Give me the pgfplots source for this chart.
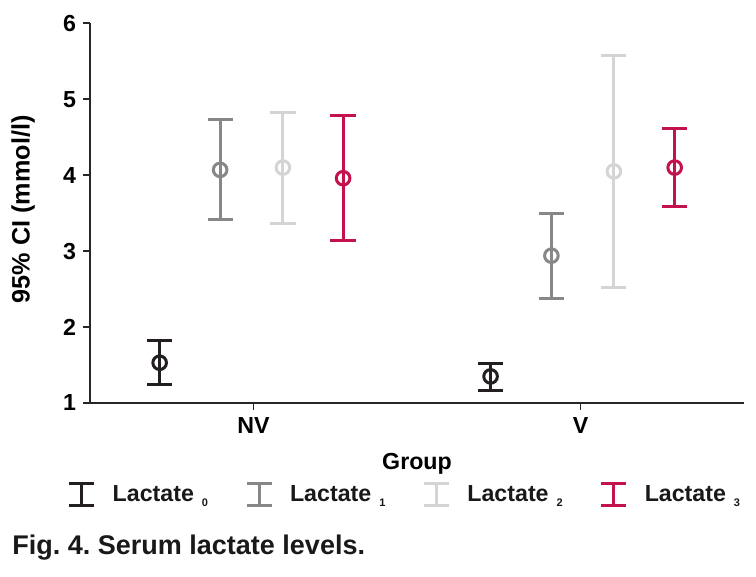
\documentclass[border=0pt]{standalone}
\usepackage{fontspec}
\setmainfont{Liberation Sans}
\usepackage{pgfplots}
\pgfplotsset{compat=1.18}
\definecolor{cA}{RGB}{35,31,32}
\definecolor{cB}{RGB}{135,135,135}
\definecolor{cC}{RGB}{212,212,212}
\definecolor{cD}{RGB}{196,18,76}
\newcommand{\sub}[1]{\hspace{4pt}\raisebox{-2.5pt}{\fontsize{5.5}{6}\selectfont #1}}
\frenchspacing
\begin{document}
\begin{tikzpicture}
\useasboundingbox (-45pt,-87pt) rectangle (333pt,201.5pt);
\begin{axis}[
  at={(0,0)}, anchor=south west, scale only axis,
  width=327pt, height=189.85pt,
  xmin=-0.5, xmax=1.5, ymin=1, ymax=6,
  axis x line*=bottom, axis y line*=left,
  axis line style={line width=0.85pt, color=black!85, -},
  xtick={0,1}, xticklabels={NV,V}, ytick={1,2,3,4,5,6},
  tick align=outside, major tick length=3.5pt,
  tick style={line width=0.85pt, color=black!85},
  /pgf/number format/assume math mode=true,
  font=\bfseries\fontsize{11.6}{13}\selectfont,
  tick label style={font=\bfseries\fontsize{11.6}{13}\selectfont},
  xlabel={Group}, ylabel={95\% CI (mmol/l)},
  xlabel style={at={(axis description cs:0.5,-0.1605)}, anchor=center},
  ylabel style={at={(axis description cs:-0.1024,0.51)}, anchor=center,
    font=\bfseries\fontsize{12.6}{14}\selectfont},
  legend columns=4,
  legend style={draw=none, fill=none, at={(0.48,-0.242)}, anchor=center,
    nodes={inner sep=0pt, text=black!90},
    /tikz/every odd column/.append style={column sep=8.5pt},
    /tikz/every even column/.append style={column sep=18.5pt}},
  legend image code/.code={
    \draw[#1, mark=none] (6.25pt,-5.5pt) -- (6.25pt,5.5pt);
    \draw[#1, mark=none] (0pt,-5.5pt) -- (12.5pt,-5.5pt);
    \draw[#1, mark=none] (0pt,5.5pt) -- (12.5pt,5.5pt);
  },
  every axis plot/.append style={only marks, mark=o, mark size=3.4pt, line width=1.5pt,
    error bars/y dir=both, error bars/y explicit,
    error bars/error mark=|,
    error bars/error bar style={line width=1.5pt},
    error bars/error mark options={mark size=6.3pt, line width=1.5pt}},
]
\addplot[color=cA] coordinates {
  (-0.287,1.53) += (0,0.29) -= (0,0.29)
  (0.725,1.35) += (0,0.17) -= (0,0.18)
};
\addlegendentry{Lactate\sub{0}}
\addplot[color=cB] coordinates {
  (-0.102,4.07) += (0,0.66) -= (0,0.66)
  (0.911,2.94) += (0,0.55) -= (0,0.56)
};
\addlegendentry{Lactate\sub{1}}
\addplot[color=cC] coordinates {
  (0.090,4.10) += (0,0.73) -= (0,0.73)
  (1.102,4.05) += (0,1.52) -= (0,1.53)
};
\addlegendentry{Lactate\sub{2}}
\addplot[color=cD] coordinates {
  (0.274,3.96) += (0,0.83) -= (0,0.82)
  (1.288,4.10) += (0,0.51) -= (0,0.51)
};
\addlegendentry{Lactate\sub{3}}
\end{axis}
\node[anchor=base west, inner sep=0pt, text=black!90, font=\bfseries\fontsize{13.5}{15}\selectfont] at (-39pt,-76pt) {Fig. 4. Serum lactate levels.};
\end{tikzpicture}
\end{document}
